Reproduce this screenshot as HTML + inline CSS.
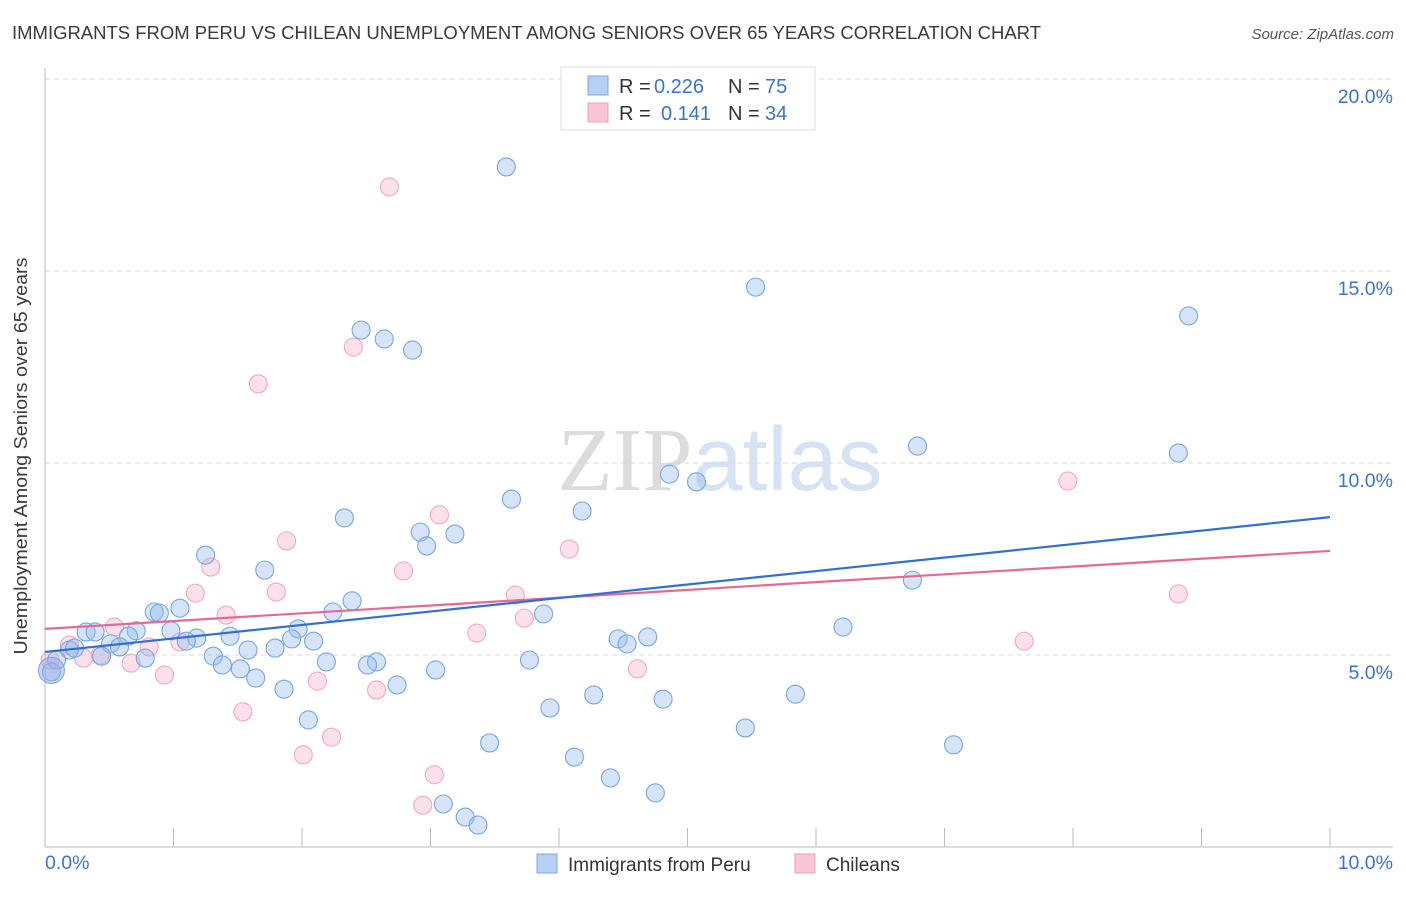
<!DOCTYPE html>
<html><head><meta charset="utf-8"><style>
body{margin:0;background:#fff;font-family:"Liberation Sans",sans-serif}
svg text{font-family:"Liberation Sans",sans-serif}
</style></head><body>
<svg id="chart" width="1406" height="892" xmlns="http://www.w3.org/2000/svg">
<text x="12" y="39" font-size="18" fill="#3a3a3a" textLength="1029" lengthAdjust="spacingAndGlyphs">IMMIGRANTS FROM PERU VS CHILEAN UNEMPLOYMENT AMONG SENIORS OVER 65 YEARS CORRELATION CHART</text>
<text x="1394" y="39" font-size="15" fill="#555" font-style="italic" text-anchor="end">Source: ZipAtlas.com</text>
<text x="720" y="490" font-size="90" fill="#e4e4e4" text-anchor="middle" font-family="Liberation Serif"><tspan fill="#dcdcdc" font-family="Liberation Serif">ZIP</tspan><tspan fill="#d6e3f3" font-family="Liberation Sans">atlas</tspan></text>
<g id="grid"></g>
<g id="axes"></g>
<g id="points"></g>
<g id="trends"></g>
<text x="27" y="456" font-size="18" fill="#3a3a3a" text-anchor="middle" textLength="397" lengthAdjust="spacingAndGlyphs" transform="rotate(-90 27 456)">Unemployment Among Seniors over 65 years</text>
<g>
<rect x="561" y="67" width="254" height="63" fill="#fff" stroke="#ddd"/>
<rect x="588" y="76" width="20" height="19" fill="#b6d0f3" stroke="#7ea8e0"/>
<rect x="588" y="103" width="20" height="19" fill="#f9c6d6" stroke="#f0a0bb"/>
<text x="619" y="93" font-size="20" fill="#333">R = <tspan x="654" fill="#3a74d0">0.226</tspan><tspan x="728">N = </tspan><tspan x="765" fill="#3a74d0">75</tspan></text>
<text x="619" y="120" font-size="20" fill="#333">R = <tspan x="661" fill="#3a74d0">0.141</tspan><tspan x="728">N = </tspan><tspan x="765" fill="#3a74d0">34</tspan></text>
</g>
<g>
<rect x="537" y="854" width="20" height="19" fill="#b6d0f3" stroke="#7ea8e0"/>
<text x="568" y="871" font-size="19" fill="#333">Immigrants from Peru</text>
<rect x="795" y="854" width="20" height="19" fill="#f9c6d6" stroke="#f0a0bb"/>
<text x="826" y="871" font-size="19" fill="#333">Chileans</text>
</g>
</svg>
<script>
const yTicks=[5,10,15,20];
const yTickLabels=["5.0%","10.0%","15.0%","20.0%"];
const xTickLabels=["0.0%","10.0%"];
const peruX=[3.59,5.53,8.90,2.46,2.64,2.86,6.79,8.82,4.86,5.07,3.63,2.33,4.18,2.92,3.19,2.97,1.25,1.71,6.75,2.39,1.05,0.85,0.89,2.24,3.88,6.21,1.97,0.32,0.39,0.71,0.98,0.65,1.44,1.18,1.92,2.09,4.46,4.69,4.53,0.51,0.58,1.10,1.58,1.79,0.19,1.31,0.44,0.78,2.19,2.58,2.51,3.77,1.38,1.52,3.04,1.64,2.74,1.86,4.27,5.84,4.81,3.93,2.05,5.45,3.46,7.07,4.12,4.40,3.10,4.75,3.27,3.37,0.09,0.05,0.23];
const peruY=[17.71,14.58,13.83,13.46,13.23,12.94,10.44,10.26,9.71,9.51,9.06,8.57,8.75,8.20,8.15,7.84,7.60,7.21,6.95,6.41,6.22,6.12,6.09,6.12,6.07,5.73,5.68,5.60,5.60,5.63,5.63,5.49,5.49,5.44,5.42,5.36,5.42,5.47,5.29,5.29,5.21,5.36,5.13,5.18,5.13,4.97,4.97,4.92,4.82,4.82,4.74,4.87,4.74,4.64,4.61,4.40,4.22,4.11,3.96,3.98,3.85,3.62,3.31,3.10,2.71,2.66,2.34,1.80,1.12,1.41,0.78,0.57,4.87,4.56,5.18];
const chileX=[2.68,2.40,1.66,7.96,3.07,4.08,1.88,2.79,1.29,1.17,1.80,3.66,8.82,1.41,3.73,3.36,0.54,7.62,0.19,1.05,0.81,0.30,0.67,4.61,0.93,2.58,2.12,1.54,2.23,2.01,3.03,2.94,0.43,0.04];
const chileY=[17.19,13.02,12.06,9.53,8.65,7.76,7.97,7.19,7.29,6.61,6.64,6.56,6.59,6.04,5.96,5.57,5.73,5.36,5.26,5.34,5.21,4.92,4.79,4.64,4.48,4.09,4.32,3.52,2.86,2.40,1.88,1.09,5.00,4.87];
const peruTrend=[5.08,8.59];
const chileTrend=[5.68,7.71];
const NS="http://www.w3.org/2000/svg";
const X0=45,X1=1330,Y0=847,YPX=38.4;
const sx=v=>X0+v*(X1-X0)/10;
const sy=v=>Y0-v*YPX;
function mk(tag,attrs,parent){const e=document.createElementNS(NS,tag);for(const k in attrs)e.setAttribute(k,attrs[k]);document.getElementById(parent).appendChild(e);return e;}
yTicks.forEach((t,i)=>{
 const l=mk('line',{x1:45,x2:1393,y1:sy(t),y2:sy(t),stroke:'#d8d8d8','stroke-dasharray':'5,4'},'grid');
 
 
 const tx=mk('text',{x:1393,y:sy(t)+24,'font-size':19.5,fill:'#3a74d0','text-anchor':'end'},'grid');
 tx.textContent=yTickLabels[i];
 
 
});
let a=mk('line',{x1:45,x2:45,y1:68,y2:847,stroke:'#bbb'},'axes');


a=mk('line',{x1:45,x2:1393,y1:847,y2:847,stroke:'#bbb'},'axes');


for(let i=1;i<=10;i++){
 const t=mk('line',{x1:sx(i),x2:sx(i),y1:828,y2:847,stroke:'#bbb'},'axes');
 
 
}
let xl=mk('text',{x:45,y:869,'font-size':19.5,fill:'#3a74d0'},'axes');
xl.textContent=xTickLabels[0];


xl=mk('text',{x:1393,y:869,'font-size':19.5,fill:'#3a74d0','text-anchor':'end'},'axes');
xl.textContent=xTickLabels[1];


function pts(X,Y,fill,stroke,name){
 X.forEach((x,i)=>{
  const c=mk('circle',{cx:sx(x),cy:sy(Y[i]),r:9,fill:fill,stroke:stroke,'stroke-width':1.1},'points');
  
  
 });
}
pts(chileX,chileY,'rgba(246,170,196,0.35)','#f2a9c0','point-chileans');
pts(peruX,peruY,'rgba(150,188,238,0.4)','#78a6e2','point-peru');
let b=mk('circle',{cx:sx(0.05),cy:sy(4.6),r:13,fill:'rgba(150,170,230,0.5)',stroke:'#7c9fe0'},'points');


let tl=mk('line',{x1:sx(0),x2:sx(10),y1:sy(chileTrend[0]),y2:sy(chileTrend[1]),stroke:'#e46a94','stroke-width':2.2},'trends');


tl=mk('line',{x1:sx(0),x2:sx(10),y1:sy(peruTrend[0]),y2:sy(peruTrend[1]),stroke:'#2f6fd6','stroke-width':2.2},'trends');


</script>
</body></html>
